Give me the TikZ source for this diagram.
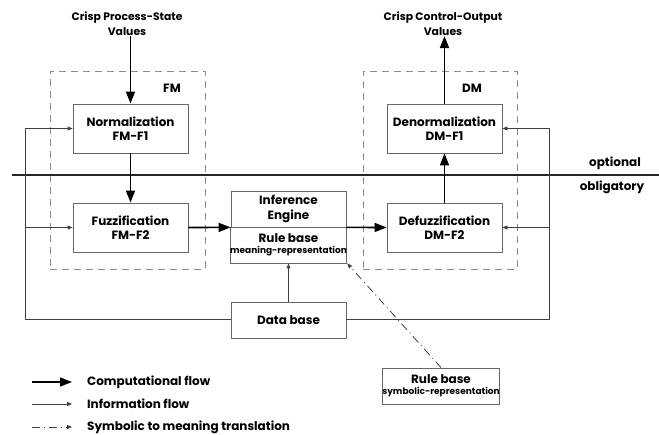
\documentclass[tikz,border=0pt]{standalone}
\usepackage{fontspec}
\setmainfont{Poppins}
\usepackage{tikz}
\usetikzlibrary{arrows.meta,positioning}

\begin{document}
\begin{tikzpicture}[
  x=1pt,y=1pt,yscale=-1,
  every node/.style={font=\bfseries\fontsize{12}{14.5}\selectfont,align=center,inner sep=0pt},
  block/.style={draw=black!60,line width=0.8pt,minimum width=115pt,minimum height=49pt},
  half/.style={draw=black!60,line width=0.8pt,minimum width=115pt,minimum height=36pt},
  frame/.style={draw=black!45,dashed,dash pattern=on 7pt off 5pt,line width=0.6pt},
  comp/.style={line width=1.6pt,-{Triangle[length=12pt,width=9pt]}},
  info/.style={draw=black!75,line width=0.8pt,-{Triangle[length=5pt,width=4pt]}},
  transl/.style={draw=black!75,line width=0.8pt,dash pattern=on 8pt off 4pt on 1pt off 4pt,-{Triangle[length=5pt,width=4pt]}},
  small/.style={font=\bfseries\fontsize{7.3}{9}\selectfont},
  title/.style={font=\bfseries\fontsize{10.8}{15}\selectfont}
  ]
  \useasboundingbox (0,0) rectangle (659,435);

  \node[frame,minimum width=155pt,minimum height=198pt] (fm) at (127.5,170) {};
  \node[frame,minimum width=154pt,minimum height=198pt] (dm) at (440,170) {};
  \node (fmlab) at (172,88) {FM};
  \node (dmlab) at (472,88) {DM};

  \node[title] (inp) at (127,24) {Crisp Process-State\\Values};
  \node[title] (outp) at (443,24) {Crisp Control-Output\\Values};

  \node[block] (norm) at (130.5,128.5) {Normalization\\FM-F1};
  \node[block] (fuzz) at (130.5,227.5) {Fuzzification\\FM-F2};
  \node[half] (infer) at (288.5,209) {Inference\\Engine};
  \node[half] (rulem) at (288.5,245) {Rule base\\[-3pt]{\small meaning-representation}};
  \node[block] (denorm) at (444.5,128.5) {Denormalization\\DM-F1};
  \node[block] (defuzz) at (444.5,227.5) {Defuzzification\\DM-F2};
  \node[half] (db) at (288.5,320) {Data base};
  \node[half,minimum width=114pt] (rules) at (441,386) {Rule base\\[-3pt]{\small symbolic-representation}};

  \draw[line width=1.6pt,black!85] (12,175) -- (659,175);
  \node (opt) at (615,163) {optional};
  \node (obl) at (612,187) {obligatory};

  \draw[comp] (inp.south -| norm.north) -- (norm.north);
  \draw[comp] (norm) -- (fuzz);
  \draw[comp] (fuzz.east) -- (infer.south west);
  \draw[comp] (infer.south east) -- (defuzz.west);
  \draw[comp] (defuzz) -- (denorm);
  \draw[comp] (denorm.north) -- (denorm.north |- outp.south);

  \coordinate (lb) at (25,319);
  \coordinate (rb) at (549,319);
  \draw[info] (db.west |- lb) -- (lb) |- (norm.west);
  \draw[info] (lb |- fuzz.west) -- (fuzz.west);
  \draw[info] (db.east |- rb) -- (rb) |- (denorm.east);
  \draw[info] (rb |- defuzz.east) -- (defuzz.east);
  \draw[info] (db) -- (rulem);
  \draw[transl] (rules.north) -- (rulem.south east);

  \coordinate (l1) at (32,382);
  \coordinate (l2) at (32,404);
  \coordinate (l3) at (32,427);
  \node[anchor=west] (lg1) at (87,382) {Computational flow};
  \node[anchor=west] (lg2) at (87,404) {Information flow};
  \node[anchor=west] (lg3) at (87,427) {Symbolic to meaning translation};
  \draw[comp] (l1) -- ([xshift=-15pt]lg1.west);
  \draw[info] (l2) -- ([xshift=-15pt]lg2.west);
  \draw[transl] (l3) -- ([xshift=-15pt]lg3.west);
\end{tikzpicture}
\end{document}
